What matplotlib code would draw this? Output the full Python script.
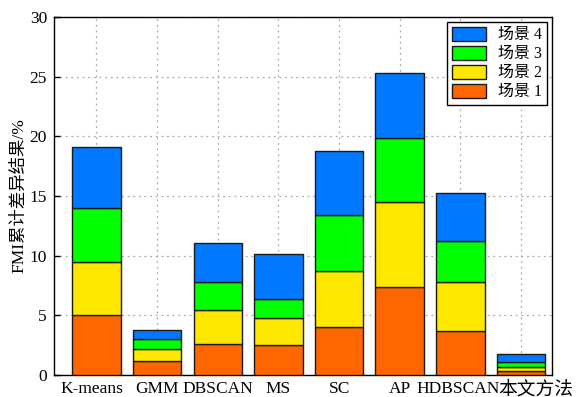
import matplotlib
matplotlib.use("Agg")
import matplotlib.pyplot as plt
import matplotlib.transforms as mtransforms
import numpy as np

plt.rcParams['font.family'] = ['Liberation Serif', 'Noto Sans CJK SC']
plt.rcParams['axes.unicode_minus'] = False

methods = ['K-means', 'GMM', 'DBSCAN', 'MS', 'SC', 'AP', 'HDBSCAN', '本文方法']
scene1 = [5.0, 1.15, 2.57, 2.49, 4.0, 7.35, 3.66, 0.3]
scene2 = [4.47, 1.0, 2.9, 2.26, 4.75, 7.15, 4.14, 0.35]
scene3 = [4.53, 0.85, 2.3, 1.65, 4.65, 5.34, 3.46, 0.4]
scene4 = [5.1, 0.8, 3.29, 3.77, 5.4, 5.5, 4.0, 0.7]
series = [scene1, scene2, scene3, scene4]
labels = ['场景 1', '场景 2', '场景 3', '场景 4']
colors = ['#FF6600', '#FFE800', '#00FF00', '#0078FF']

fig = plt.figure(figsize=(5.8, 3.97), dpi=100)
ax = fig.add_axes([54 / 580, 1 - 375 / 397, 498 / 580, 358 / 397])

x = np.arange(len(methods))
bottom = np.zeros(len(methods))
handles = []
for vals, lab, col in zip(series, labels, colors):
    h = ax.bar(x, vals, width=0.8, bottom=bottom, color=col,
               edgecolor='#1a1a1a', linewidth=1.0, label=lab, zorder=3)
    handles.append(h)
    bottom += np.array(vals)

ax.set_xlim(-0.70, 7.51)
ax.set_ylim(0, 30)
ax.set_yticks([0, 5, 10, 15, 20, 25, 30])
ax.set_xticks(x)
ax.set_xticklabels(methods)
ax.tick_params(direction='in', length=4, labelsize=12.5, width=1)
ax.tick_params(axis='x', pad=4)
ax.tick_params(axis='y', pad=5)

# nudge crowded category labels apart
nudge_px = {'K-means': -5, 'HDBSCAN': -2, '本文方法': 15}
for t in ax.get_xticklabels():
    dx = nudge_px.get(t.get_text(), 0)
    if dx:
        t.set_transform(t.get_transform() +
                        mtransforms.ScaledTranslation(dx / 100, 0, fig.dpi_scale_trans))
    if t.get_text() == '本文方法':
        t.set_fontsize(13.5)

ax.grid(True, linestyle=(0, (1.5, 3)), color='#aaaaaa', linewidth=0.9, zorder=0)
for s in ax.spines.values():
    s.set_linewidth(1.0)
ax.set_ylabel('FMI累计差异结果/%', fontsize=12.5, labelpad=2)

leg = ax.legend(handles[::-1], labels[::-1], loc='upper right', fontsize=11.5,
                frameon=True, fancybox=False, edgecolor='black',
                handlelength=2.1, handleheight=1.0, handletextpad=0.8,
                borderpad=0.3, labelspacing=0.15, borderaxespad=0.3)
leg.get_frame().set_linewidth(1.0)
leg.get_frame().set_alpha(1)

fig.savefig('out.png', dpi=100)
